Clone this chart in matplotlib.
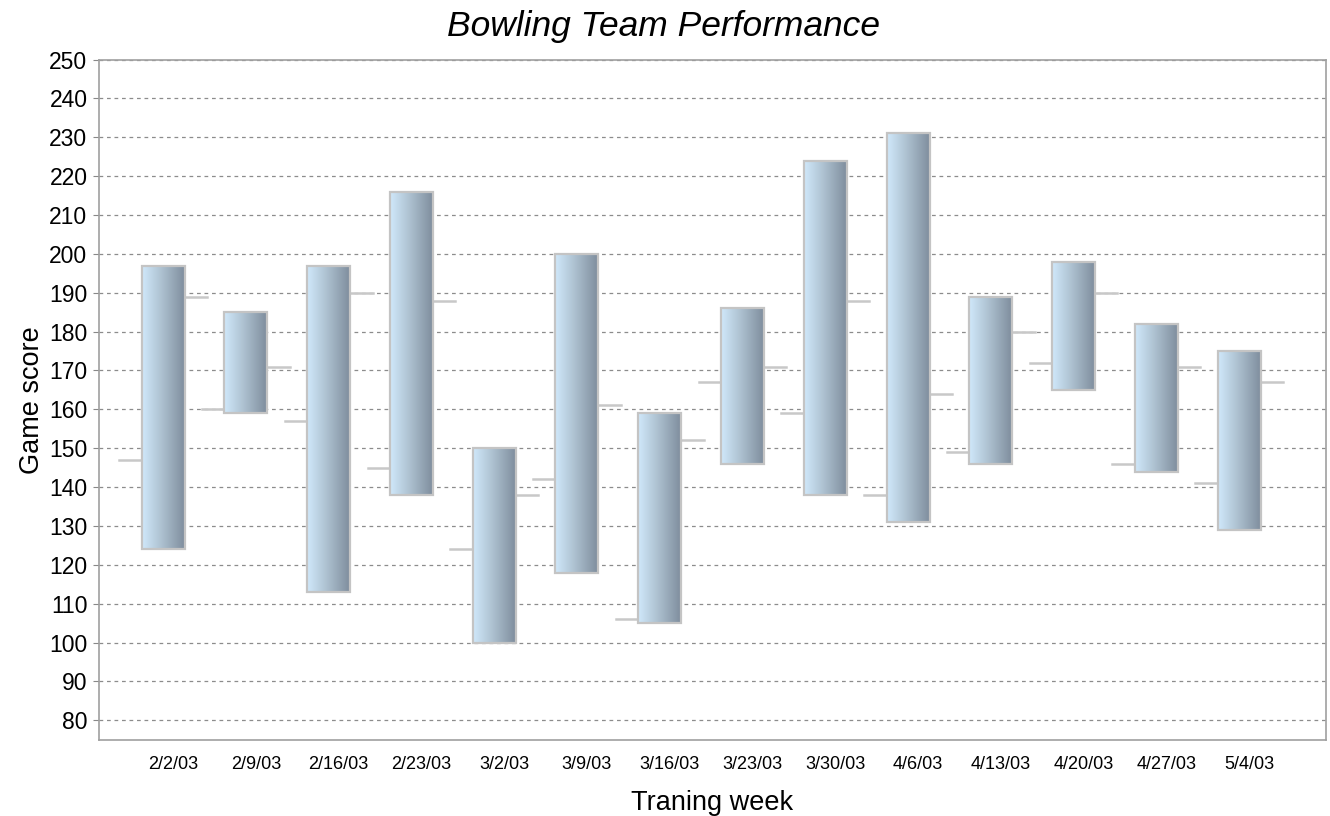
import matplotlib
matplotlib.use("Agg")
import matplotlib.pyplot as plt
from matplotlib.colors import LinearSegmentedColormap
from matplotlib.patches import Rectangle
import numpy as np

# weekly scores: open, high, low, close
weeks = ['2/2/03', '2/9/03', '2/16/03', '2/23/03', '3/2/03', '3/9/03', '3/16/03',
         '3/23/03', '3/30/03', '4/6/03', '4/13/03', '4/20/03', '4/27/03', '5/4/03']
open_scores = [147, 160, 157, 145, 124, 142, 106, 167, 159, 138, 149, 172, 146, 141]
high_scores = [197, 185, 197, 216, 150, 200, 159, 186, 224, 231, 189, 198, 182, 175]
low_scores = [124, 159, 113, 138, 100, 118, 105, 146, 138, 131, 146, 165, 144, 129]
close_scores = [189, 171, 190, 188, 138, 161, 152, 171, 188, 164, 180, 190, 171, 167]

plt.rcParams['font.family'] = ['Liberation Sans', 'DejaVu Sans']

fig = plt.figure(figsize=(13.3, 8.16), dpi=100)
ax = fig.add_axes([0.0741, 0.0935, 0.9229, 0.8335])

# blue-grey gradient for the bars
grad = LinearSegmentedColormap.from_list('bar', ['#d0e8fb', '#a9bccb', '#7d8b9b'])
gradient = np.linspace(0, 1, 256).reshape(1, -1)

shift = -0.12   # bars sit a little left of the labels
bw = 0.52
tick = 0.27
for i in range(len(weeks)):
    xc = i + shift
    x0 = xc - bw / 2
    x1 = xc + bw / 2
    ax.imshow(gradient, cmap=grad, aspect='auto', extent=(x0, x1, low_scores[i], high_scores[i]),
              zorder=3, interpolation='bilinear')
    ax.add_patch(Rectangle((x0, low_scores[i]), bw, high_scores[i] - low_scores[i],
                           fill=False, edgecolor='#c4c4c4', lw=1.6, zorder=4))
    ax.plot([x0 - tick, x0], [open_scores[i], open_scores[i]], color='#c8c8c8', lw=1.8, zorder=2)
    ax.plot([x1, x1 + tick], [close_scores[i], close_scores[i]], color='#c8c8c8', lw=1.8, zorder=2)

ax.set_xlim(-0.9, 13.93)
ax.set_ylim(75, 250)
ax.set_yticks(range(80, 251, 10))
ax.set_xticks(range(len(weeks)))
ax.set_xticklabels(weeks, fontsize=13)
ax.tick_params(axis='x', length=0, pad=12)
ax.tick_params(axis='y', labelsize=16.5, length=4, color='#888888', pad=4)

ax.grid(axis='y', linestyle=(0, (3, 3)), color='#8c8c8c', lw=0.9, zorder=1)
ax.set_axisbelow(True)
for side in ['left', 'bottom', 'right', 'top']:
    ax.spines[side].set_color('#a0a0a0')
    ax.spines[side].set_linewidth(1.2)

fig.text(0.4985, 0.967, 'Bowling Team Performance', fontsize=25.5, style='italic',
         ha='center', va='center')
ax.set_xlabel('Traning week', fontsize=19.5, labelpad=12)
ax.set_ylabel('Game score', fontsize=19.5, labelpad=3)

plt.savefig('out.png', dpi=100)
